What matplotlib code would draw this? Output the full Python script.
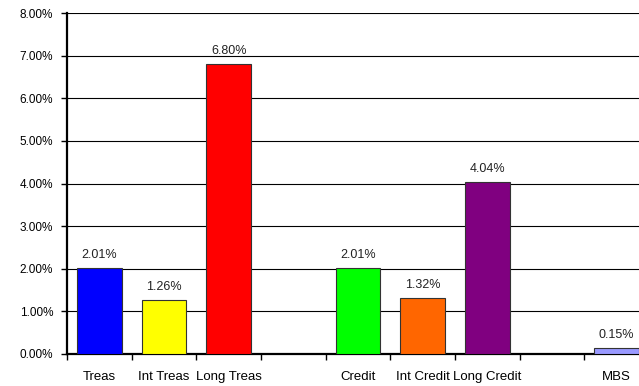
import numpy as np
import matplotlib.pyplot as plt
from matplotlib.ticker import FuncFormatter, MultipleLocator

plt.rcParams['font.family'] = ['Liberation Sans', 'DejaVu Sans']

categories = ['Treas', 'Int Treas', 'Long Treas', '', 'Credit', 'Int Credit', 'Long Credit', '', 'MBS']
values = [2.01, 1.26, 6.80, None, 2.01, 1.32, 4.04, None, 0.15]
colors = ['#0000FF', '#FFFF00', '#FF0000', None, '#00FF00', '#FF6600', '#800080', None, '#9999FF']

fig = plt.figure(figsize=(6.39, 3.86), dpi=100)
# right edge of the plot area runs past the picture, as in the source
ax = fig.add_axes([67 / 639, 32 / 386, 582 / 639, 341 / 386])

ax.set_axisbelow(True)
ax.yaxis.grid(True, color='black', linewidth=0.8)

x = np.arange(len(categories))
for xi, v, c in zip(x, values, colors):
    if v is None:
        continue
    ax.bar(xi, v, width=0.69, color=c, edgecolor='#333333', linewidth=0.8, zorder=3)
    ax.annotate(f'{v:.2f}%', (xi, v), xytext=(0, 5), textcoords='offset points',
                ha='center', va='bottom', fontsize=9, color='#222222')

ax.set_xlim(-0.5, len(categories) - 0.5)
ax.set_ylim(0, 8)
ax.yaxis.set_major_locator(MultipleLocator(1))
ax.yaxis.set_major_formatter(FuncFormatter(lambda v, p: f'{v:.2f}%'))

ax.set_xticks(x)
ax.set_xticklabels(categories)
ax.set_xticks(np.arange(-0.5, len(categories), 1), minor=True)
ax.tick_params(axis='x', which='major', length=0, pad=12, labelsize=9.5)
ax.tick_params(axis='x', which='minor', length=4, width=1, direction='out')
ax.tick_params(axis='y', length=4, width=1, pad=6, labelsize=8.5)

for s in ['top', 'right']:
    ax.spines[s].set_visible(False)
ax.spines['left'].set_linewidth(1.6)
ax.spines['bottom'].set_linewidth(1.6)

fig.savefig('out.png', dpi=100)
